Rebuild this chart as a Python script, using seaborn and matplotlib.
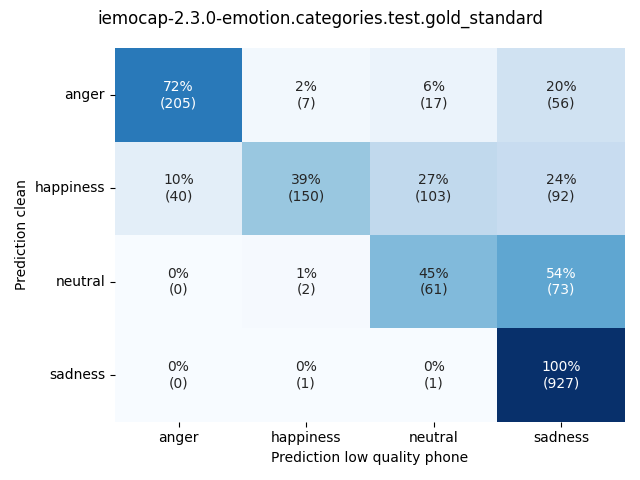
import numpy as np
import pandas as pd
import seaborn as sns
import matplotlib
matplotlib.use("Agg")
import matplotlib.pyplot as plt

labels = ["anger", "happiness", "neutral", "sadness"]
counts = [
    [205, 7, 17, 56],
    [40, 150, 103, 92],
    [0, 2, 61, 73],
    [0, 1, 1, 927],
]
title = "iemocap-2.3.0-emotion.categories.test.gold_standard"
xlabel = "Prediction low quality phone"
ylabel = "Prediction clean"

cm = np.array(counts, dtype=float)
pct = cm / cm.sum(axis=1, keepdims=True) * 100
annot = np.array([[f"{pct[i, j]:.0f}%\n({counts[i][j]})" for j in range(4)] for i in range(4)])

df = pd.DataFrame(pct, index=labels, columns=labels)

fig, ax = plt.subplots(figsize=(6.4, 4.8), dpi=100)
sns.heatmap(df, annot=annot, fmt="", cmap="Blues", cbar=False, vmin=0, vmax=100, ax=ax)
ax.set_xlabel(xlabel)
ax.set_ylabel(ylabel)
ax.tick_params(axis="y", rotation=0)
fig.suptitle(title)
fig.tight_layout()
fig.savefig("out.png")
